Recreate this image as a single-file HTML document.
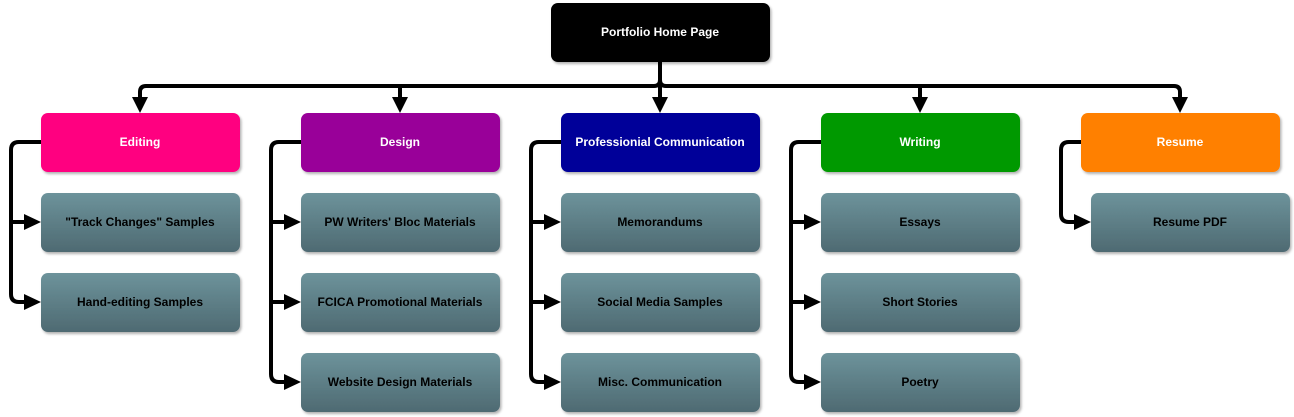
<!DOCTYPE html>
<html><head><meta charset="utf-8"><style>
html,body{margin:0;padding:0;background:#fff;width:1294px;height:417px;overflow:hidden}
text{font-family:"Liberation Sans",Arial,sans-serif;font-weight:bold;font-size:12px;text-anchor:middle;dominant-baseline:central}
</style></head><body>
<svg width="1294" height="417" viewBox="0 0 1294 417" xmlns="http://www.w3.org/2000/svg">
<defs>
<linearGradient id="g" x1="0" y1="0" x2="0" y2="1"><stop offset="0" stop-color="#6d939b"/><stop offset="1" stop-color="#4e6a72"/></linearGradient>
<filter id="s" x="-10%" y="-10%" width="130%" height="140%"><feDropShadow dx="1.5" dy="2" stdDeviation="1.2" flood-color="#000" flood-opacity="0.3"/></filter>
</defs>
<g fill="none" stroke="#000" stroke-width="4">
<path d="M660 62 V80 Q660 86 654 86 H146 Q140 86 140 92 V100"/>
<path d="M660 80 Q660 86 666 86 H1174 Q1180 86 1180 92 V100"/>
<path d="M400 86 V100 M660 86 V100 M920 86 V100"/>
<path d="M41 142 H19 Q11 142 11 150 V294 Q11 302 19 302 H26 M11 222 H26"/>
<path d="M301 142 H279 Q271 142 271 150 V374 Q271 382 279 382 H286 M271 222 H286 M271 302 H286"/>
<path d="M561 142 H539 Q531 142 531 150 V374 Q531 382 539 382 H546 M531 222 H546 M531 302 H546"/>
<path d="M821 142 H799 Q791 142 791 150 V374 Q791 382 799 382 H806 M791 222 H806 M791 302 H806"/>
<path d="M1081 142 H1069 Q1061 142 1061 150 V214 Q1061 222 1069 222 H1076"/>
</g>
<g fill="#000">
<path d="M132 97 H148 L140 113 Z"/><path d="M392 97 H408 L400 113 Z"/><path d="M652 97 H668 L660 113 Z"/><path d="M912 97 H928 L920 113 Z"/><path d="M1172 97 H1188 L1180 113 Z"/>
<path d="M24 214 V230 L41 222 Z"/><path d="M24 294 V310 L41 302 Z"/>
<path d="M284 214 V230 L301 222 Z"/><path d="M284 294 V310 L301 302 Z"/><path d="M284 374 V390 L301 382 Z"/>
<path d="M544 214 V230 L561 222 Z"/><path d="M544 294 V310 L561 302 Z"/><path d="M544 374 V390 L561 382 Z"/>
<path d="M804 214 V230 L821 222 Z"/><path d="M804 294 V310 L821 302 Z"/><path d="M804 374 V390 L821 382 Z"/>
<path d="M1074 214 V230 L1091 222 Z"/>
</g>
<g filter="url(#s)">
<rect x="551" y="3" width="219" height="59" rx="7" fill="#000"/>
<rect x="41" y="113" width="199" height="59" rx="7" fill="#ff0080"/>
<rect x="301" y="113" width="199" height="59" rx="7" fill="#990099"/>
<rect x="561" y="113" width="199" height="59" rx="7" fill="#000099"/>
<rect x="821" y="113" width="199" height="59" rx="7" fill="#009900"/>
<rect x="1081" y="113" width="199" height="59" rx="7" fill="#ff8000"/>
<g fill="url(#g)">
<rect x="41" y="193" width="199" height="59" rx="7"/><rect x="41" y="273" width="199" height="59" rx="7"/>
<rect x="301" y="193" width="199" height="59" rx="7"/><rect x="301" y="273" width="199" height="59" rx="7"/><rect x="301" y="353" width="199" height="59" rx="7"/>
<rect x="561" y="193" width="199" height="59" rx="7"/><rect x="561" y="273" width="199" height="59" rx="7"/><rect x="561" y="353" width="199" height="59" rx="7"/>
<rect x="821" y="193" width="199" height="59" rx="7"/><rect x="821" y="273" width="199" height="59" rx="7"/><rect x="821" y="353" width="199" height="59" rx="7"/>
<rect x="1091" y="193" width="199" height="59" rx="7"/>
</g>
</g>
<g fill="#fff">
<text x="660" y="32">Portfolio Home Page</text>
<text x="140" y="142">Editing</text>
<text x="400" y="142">Design</text>
<text x="660" y="142">Professionial Communication</text>
<text x="920" y="142">Writing</text>
<text x="1180" y="142">Resume</text>
</g>
<g fill="#000">
<text x="140" y="222">"Track Changes" Samples</text>
<text x="140" y="302">Hand-editing Samples</text>
<text x="400" y="222">PW Writers' Bloc Materials</text>
<text x="400" y="302">FCICA Promotional Materials</text>
<text x="400" y="382">Website Design Materials</text>
<text x="660" y="222">Memorandums</text>
<text x="660" y="302">Social Media Samples</text>
<text x="660" y="382">Misc. Communication</text>
<text x="920" y="222">Essays</text>
<text x="920" y="302">Short Stories</text>
<text x="920" y="382">Poetry</text>
<text x="1190" y="222">Resume PDF</text>
</g>
</svg>
</body></html>
